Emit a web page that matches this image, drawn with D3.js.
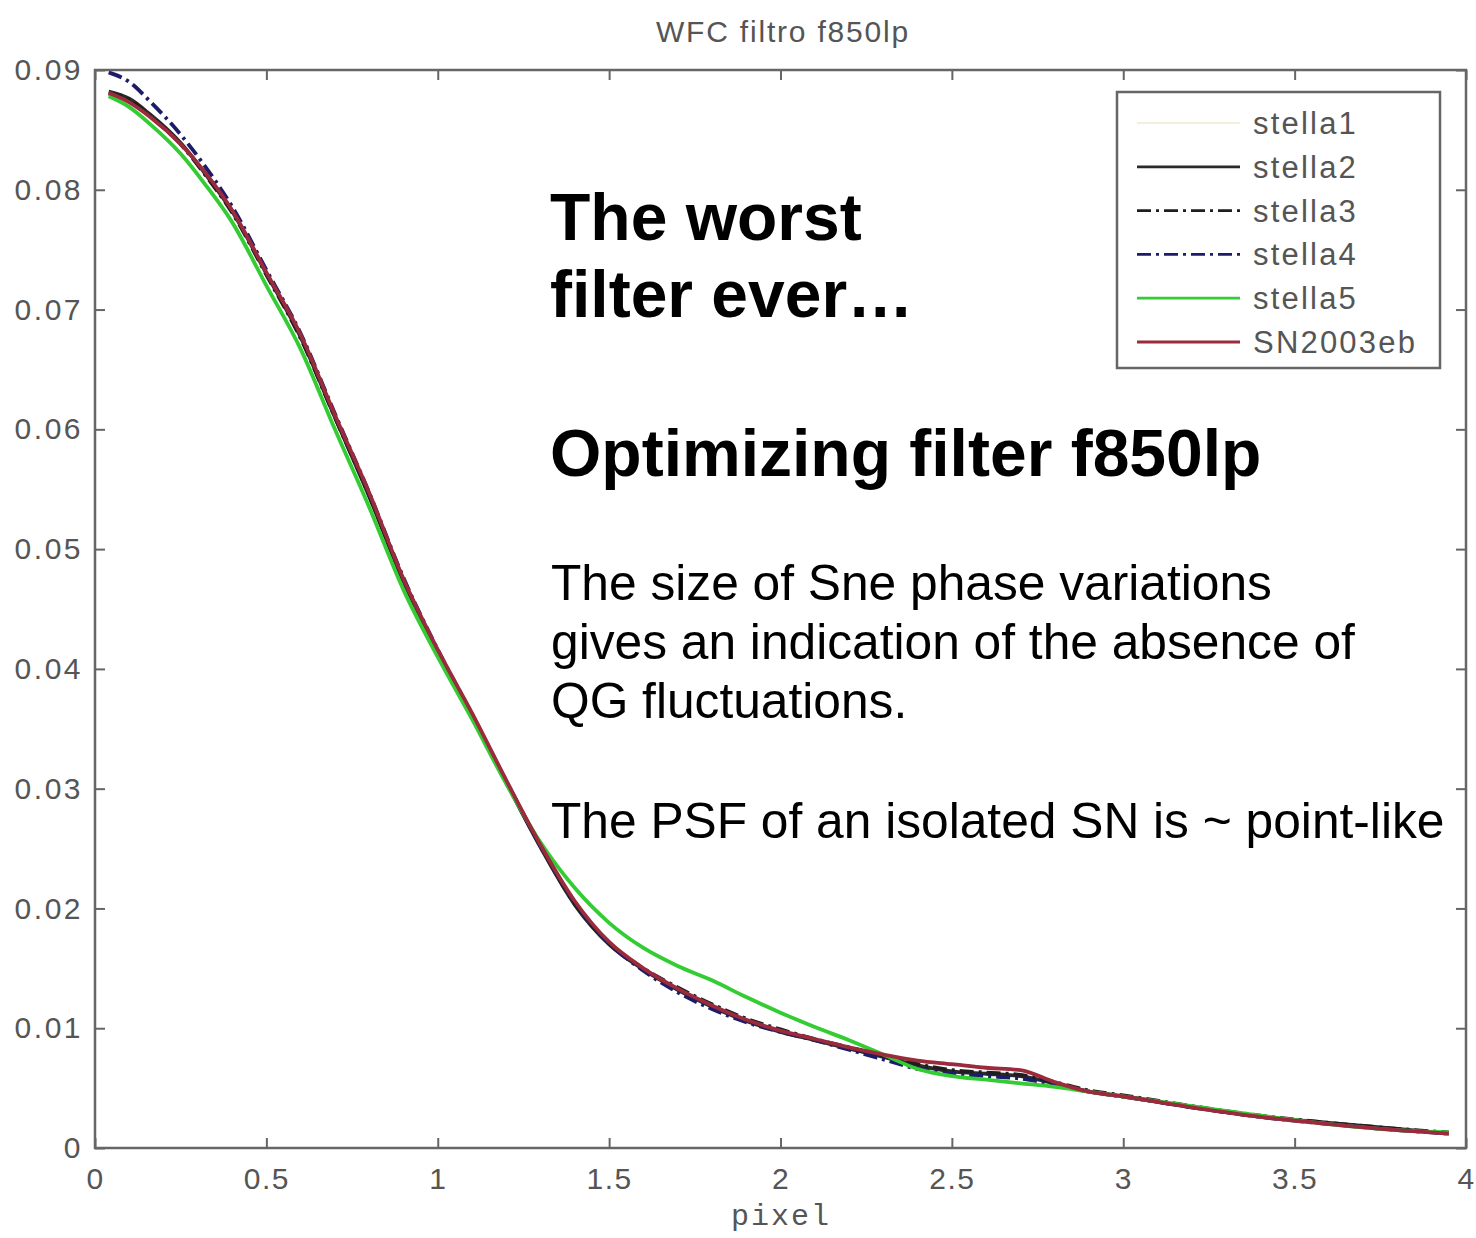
<!DOCTYPE html>
<html>
<head>
<meta charset="utf-8">
<script src="https://cdn.jsdelivr.net/npm/d3@7"></script>
<style>
  body { margin: 0; background: #fff; }
  svg { display: block; }
  .tick text { font-family: "Liberation Sans", Arial, sans-serif; fill: #555; }
</style>
</head>
<body>
<script>
// data
var pixel = [0.04,0.1,0.16,0.25,0.32,0.4,0.5,0.6,0.7,0.8,0.9,1.0,1.1,1.2,1.3,1.4,1.5,1.6,1.7,1.8,1.9,2.0,2.1,2.2,2.3,2.4,2.5,2.6,2.7,2.8,2.9,3.0,3.2,3.4,3.6,3.8,3.95];

var stella1 = [0.0881,0.0875,0.0862,0.0838,0.0814,0.0782,0.0730,0.0678,0.0611,0.0546,0.0474,0.0415,0.0362,0.0306,0.0252,0.0204,0.0171,0.0150,0.0133,0.0119,0.0107,0.0098,0.0091,0.0084,0.0077,0.0070,0.0065,0.0063,0.0061,0.0055,0.0048,0.0044,0.0035,0.0027,0.0021,0.0016,0.0013];
var stella2 = [0.0882,0.0876,0.0863,0.0839,0.0814,0.0782,0.0730,0.0677,0.0610,0.0544,0.0473,0.0414,0.0361,0.0305,0.0251,0.0203,0.0170,0.0149,0.0132,0.0118,0.0106,0.0097,0.0090,0.0083,0.0076,0.0069,0.0064,0.0062,0.0060,0.0054,0.0047,0.0043,0.0034,0.0026,0.0021,0.0016,0.0012];
var stella3 = [0.0880,0.0875,0.0862,0.0838,0.0813,0.0781,0.0729,0.0676,0.0610,0.0545,0.0474,0.0415,0.0362,0.0306,0.0252,0.0204,0.0171,0.0150,0.0134,0.0120,0.0108,0.0099,0.0091,0.0084,0.0077,0.0070,0.0065,0.0063,0.0061,0.0055,0.0048,0.0044,0.0035,0.0027,0.0021,0.0016,0.0013];
var stella4 = [0.0898,0.0890,0.0874,0.0846,0.0820,0.0786,0.0733,0.0680,0.0613,0.0547,0.0476,0.0416,0.0362,0.0306,0.0252,0.0205,0.0171,0.0148,0.0130,0.0116,0.0105,0.0097,0.0090,0.0082,0.0074,0.0066,0.0062,0.0060,0.0058,0.0053,0.0047,0.0043,0.0034,0.0026,0.0020,0.0015,0.0012];
var stella5 = [0.0878,0.0869,0.0855,0.0830,0.0805,0.0773,0.0720,0.0667,0.0600,0.0535,0.0466,0.0410,0.0358,0.0304,0.0255,0.0217,0.0188,0.0167,0.0152,0.0140,0.0126,0.0113,0.0101,0.0090,0.0078,0.0066,0.0060,0.0057,0.0054,0.0051,0.0047,0.0043,0.0035,0.0027,0.0020,0.0015,0.0013];
var sn2003eb = [0.0881,0.0873,0.0861,0.0838,0.0815,0.0783,0.0731,0.0679,0.0612,0.0547,0.0475,0.0416,0.0363,0.0307,0.0253,0.0206,0.0172,0.0150,0.0133,0.0119,0.0107,0.0098,0.0091,0.0084,0.0078,0.0073,0.0070,0.0067,0.0065,0.0055,0.0047,0.0043,0.0034,0.0026,0.0020,0.0015,0.0012];

var seriesNames = ['stella1','stella2','stella3','stella4','stella5','SN2003eb'];
var seriesValues = [stella1, stella2, stella3, stella4, stella5, sn2003eb];
var seriesColors = ['#f3efdc','#2a2a2a','#1e1e1e','#1c1c6a','#33cc33','#9a2a3c'];
var seriesDash = [null, null, '14,5,3,5', '14,5,3,5', null, null];

var xTicks = [0,0.5,1,1.5,2,2.5,3,3.5,4];
var xTickLabels = ['0','0.5','1','1.5','2','2.5','3','3.5','4'];
var yTicks = [0,0.01,0.02,0.03,0.04,0.05,0.06,0.07,0.08,0.09];
var yTickLabels = ['0','0.01','0.02','0.03','0.04','0.05','0.06','0.07','0.08','0.09'];

var W = 1476, H = 1238;
var frame = {left:95, top:70, right:1466, bottom:1148};

var svg = d3.select('body').append('svg')
  .attr('width', W)
  .attr('height', H);

var x = d3.scaleLinear().domain([0,4]).range([frame.left, frame.right]);
var y = d3.scaleLinear().domain([0,0.09]).range([frame.bottom, frame.top]);

svg.append('clipPath').attr('id','clip')
  .append('rect')
  .attr('x', frame.left).attr('y', frame.top)
  .attr('width', frame.right-frame.left).attr('height', frame.bottom-frame.top);

// axes, ticks pointing inwards on all four sides
var xAxis = d3.axisBottom(x).tickValues(xTicks)
  .tickFormat(function(d,i) { return xTickLabels[i]; })
  .tickSizeInner(-10).tickSizeOuter(0).tickPadding(20);
var yAxis = d3.axisLeft(y).tickValues(yTicks)
  .tickFormat(function(d,i) { return yTickLabels[i]; })
  .tickSizeInner(-10).tickSizeOuter(0).tickPadding(12);

var gx = svg.append('g')
  .attr('transform', 'translate(0,' + frame.bottom + ')')
  .call(xAxis);
var gy = svg.append('g')
  .attr('transform', 'translate(' + frame.left + ',0)')
  .call(yAxis);
svg.append('g')
  .attr('transform', 'translate(0,' + frame.top + ')')
  .call(d3.axisTop(x).tickValues(xTicks).tickFormat('').tickSizeInner(-10).tickSizeOuter(0));
svg.append('g')
  .attr('transform', 'translate(' + frame.right + ',0)')
  .call(d3.axisRight(y).tickValues(yTicks).tickFormat('').tickSizeInner(-10).tickSizeOuter(0));

svg.selectAll('.domain').remove();
svg.selectAll('.tick line').attr('stroke', '#666').attr('stroke-width', 2);
gx.selectAll('.tick text').style('font-size', '30px').attr('letter-spacing', 1.5);
gy.selectAll('.tick text').style('font-size', '30px').attr('letter-spacing', 2.5);

// curves
var line = d3.line()
  .x(function(d) { return x(d[0]); })
  .y(function(d) { return y(d[1]); })
  .curve(d3.curveMonotoneX);

var plot = svg.append('g').attr('clip-path', 'url(#clip)');
seriesValues.forEach(function(vals, i) {
  plot.append('path')
    .datum(pixel.map(function(p, j) { return [p, vals[j]]; }))
    .attr('d', line)
    .attr('fill', 'none')
    .attr('stroke', seriesColors[i])
    .attr('stroke-width', i == 0 ? 2 : 3.8)
    .attr('stroke-dasharray', seriesDash[i])
    .attr('stroke-linejoin', 'round');
});

// frame
svg.append('rect')
  .attr('x', frame.left).attr('y', frame.top)
  .attr('width', frame.right-frame.left).attr('height', frame.bottom-frame.top)
  .attr('fill', 'none').attr('stroke', '#666').attr('stroke-width', 2.5);

// title and x label
svg.append('text')
  .text('WFC filtro f850lp')
  .attr('x', 783).attr('y', 42)
  .attr('text-anchor', 'middle')
  .style('font-family', '"Liberation Sans", Arial, sans-serif')
  .style('font-size', '30px')
  .attr('letter-spacing', 1.8)
  .attr('fill', '#555');

svg.append('text')
  .text('pixel')
  .attr('x', 781).attr('y', 1225)
  .attr('text-anchor', 'middle')
  .style('font-family', '"Liberation Mono", "DejaVu Sans Mono", monospace')
  .style('font-size', '30px')
  .attr('letter-spacing', 2)
  .attr('fill', '#555');

// legend
var legend = svg.append('g');
legend.append('rect')
  .attr('x', 1117).attr('y', 92)
  .attr('width', 323).attr('height', 276)
  .attr('fill', '#fff').attr('stroke', '#666').attr('stroke-width', 2.5);

seriesNames.forEach(function(name, i) {
  var cy = 123 + i*43.8;
  legend.append('line')
    .attr('x1', 1137).attr('x2', 1240)
    .attr('y1', cy).attr('y2', cy)
    .attr('stroke', seriesColors[i])
    .attr('stroke-width', i == 0 ? 2 : 2.8)
    .attr('stroke-dasharray', seriesDash[i]);
  legend.append('text')
    .text(name)
    .attr('x', 1253).attr('y', cy + 11)
    .style('font-family', '"Liberation Sans", Arial, sans-serif')
    .style('font-size', '31px')
    .attr('letter-spacing', 2.2)
    .attr('fill', '#555');
});

// annotation text
var notes = svg.append('g')
  .style('font-family', '"Liberation Sans", Arial, sans-serif')
  .attr('fill', '#000');

notes.append('text').text('The worst')
  .attr('x', 550).attr('y', 240)
  .style('font-size', '66px').style('font-weight', 'bold');
notes.append('text').text('filter ever\u2026')
  .attr('x', 550).attr('y', 317)
  .style('font-size', '66px').style('font-weight', 'bold');
notes.append('text').text('Optimizing filter f850lp')
  .attr('x', 550).attr('y', 476)
  .style('font-size', '66px').style('font-weight', 'bold');

var body = ['The size of Sne phase variations',
            'gives an indication of the absence of',
            'QG fluctuations.'];
body.forEach(function(t, i) {
  notes.append('text').text(t)
    .attr('x', 551).attr('y', 600 + i*59)
    .style('font-size', '49.7px');
});
notes.append('text').text('The PSF of an isolated SN is ~ point-like')
  .attr('x', 551).attr('y', 838)
  .style('font-size', '49.7px');
</script>
</body>
</html>
